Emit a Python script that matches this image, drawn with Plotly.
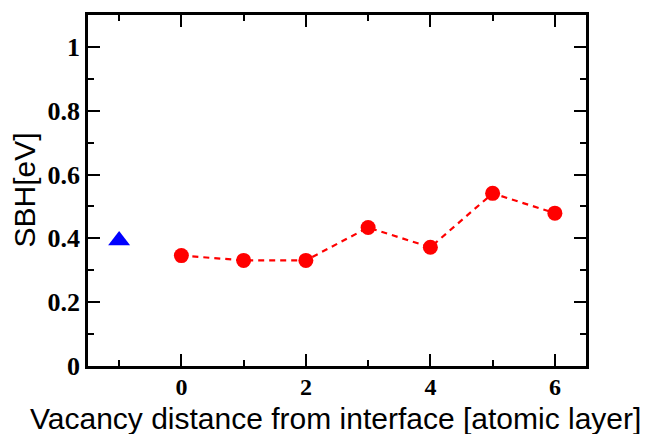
import plotly.graph_objects as go

# Data
vac_x = [0, 1, 2, 3, 4, 5, 6]
vac_sbh = [0.346, 0.331, 0.331, 0.434, 0.372, 0.541, 0.479]
ref_x = [-1]
ref_sbh = [0.393]

x_tickvals = [0, 2, 4, 6]
y_tickvals = [0, 0.2, 0.4, 0.6, 0.8, 1]
y_ticktext = ["0", "0.2", "0.4", "0.6", "0.8", "1"]

fig = go.Figure()
fig.add_trace(go.Scatter(
    x=vac_x, y=vac_sbh, mode="lines+markers",
    line=dict(color="#ff0000", width=2.2, dash="6px,5px"),
    marker=dict(color="#ff0000", size=15, symbol="circle"),
    showlegend=False, cliponaxis=False,
))
fig.add_trace(go.Scatter(
    x=ref_x, y=ref_sbh, mode="markers",
    marker=dict(color="#0000ff", size=19, symbol="triangle-up"),
    showlegend=False, cliponaxis=False,
))

xtickfont = dict(family="Liberation Serif", size=24, color="black", weight="bold")
ytickfont = dict(family="Liberation Serif", size=26, color="black", weight="bold")

fig.update_layout(
    width=648, height=434,
    margin=dict(l=88, r=62, t=12, b=68),
    paper_bgcolor="white", plot_bgcolor="white",
    xaxis=dict(
        range=[-1.5, 6.5], tickvals=x_tickvals, ticktext=[str(v) for v in x_tickvals],
        ticks="inside", ticklen=12, tickwidth=2, tickcolor="black",
        minor=dict(tickvals=[-1, 1, 3, 5], ticks="inside", ticklen=6, tickwidth=2, tickcolor="black"),
        showline=True, linecolor="black", linewidth=2.5, mirror="ticks",
        showgrid=False, zeroline=False, tickfont=xtickfont, ticklabelstandoff=-3,
    ),
    yaxis=dict(
        range=[0, 1.1], tickvals=y_tickvals, ticktext=y_ticktext,
        ticks="inside", ticklen=12, tickwidth=2, tickcolor="black",
        minor=dict(tickvals=[0.1, 0.3, 0.5, 0.7, 0.9], ticks="inside", ticklen=6, tickwidth=2, tickcolor="black"),
        showline=True, linecolor="black", linewidth=2.5, mirror="ticks",
        showgrid=False, zeroline=False, tickfont=ytickfont, ticklabelstandoff=0,
    ),
    annotations=[
        dict(text="Vacancy distance from interface [atomic layer]", xref="paper", yref="paper",
             x=(335 - 88) / 498, y=-(438 - 366) / 354, xanchor="center", yanchor="bottom",
             showarrow=False, font=dict(family="Liberation Sans", size=30, color="black")),
        dict(text="SBH[eV]", xref="paper", yref="paper", textangle=-90,
             x=-(88 - 24) / 498, y=0.5, xanchor="center", yanchor="middle",
             showarrow=False, font=dict(family="Liberation Sans", size=30, color="black")),
    ],
)

fig.write_html("out.html")
